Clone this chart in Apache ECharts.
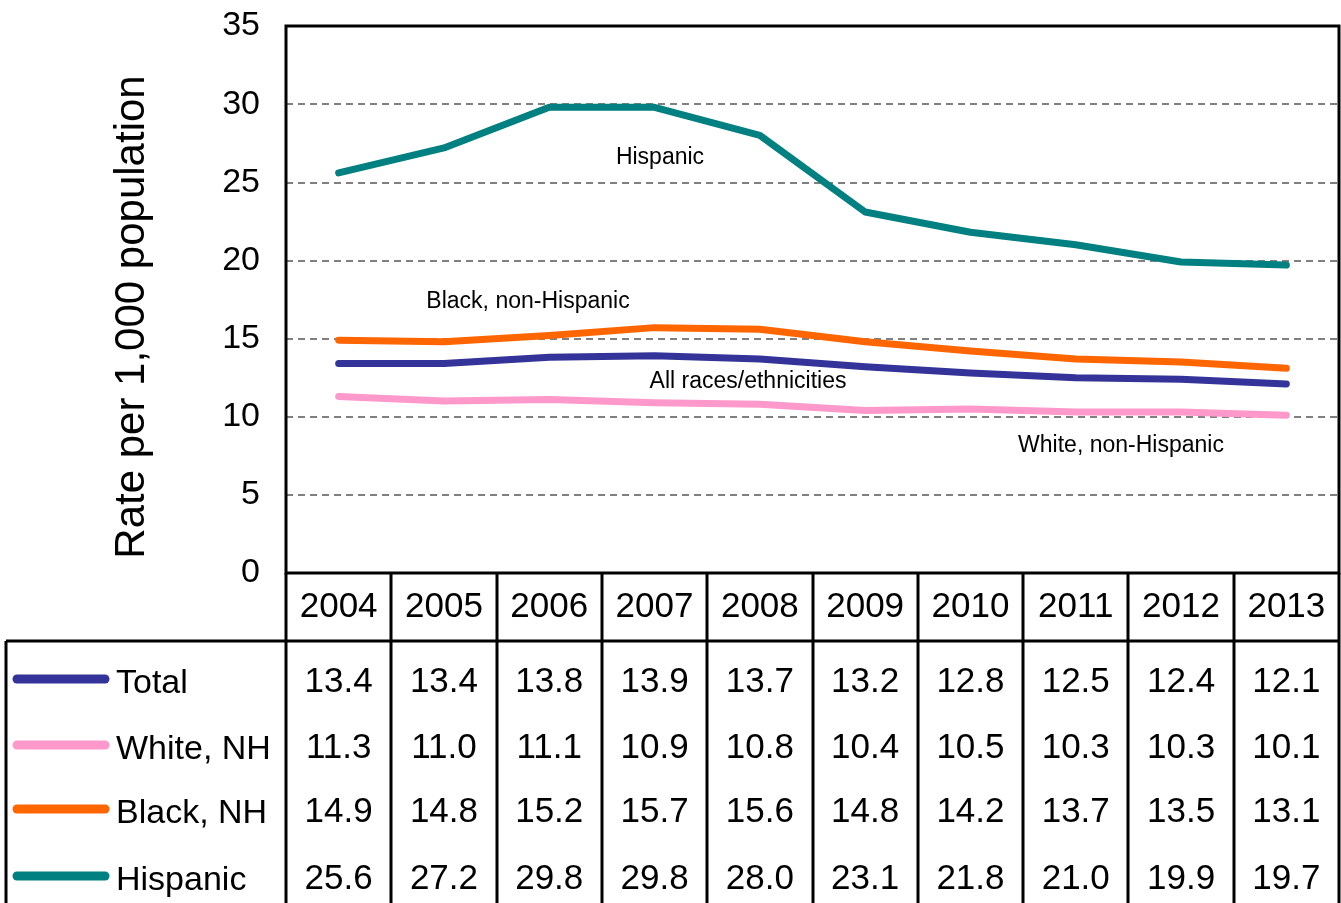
<!DOCTYPE html>
<html><head><meta charset="utf-8">
<script src="https://cdn.jsdelivr.net/npm/echarts@6/dist/echarts.min.js"></script>
<style>html,body{margin:0;padding:0;background:#fff}#c{width:1341px;height:903px}</style>
</head><body><div id="c"></div>
<script>
const years = ['2004','2005','2006','2007','2008','2009','2010','2011','2012','2013'];
const total = [13.4,13.4,13.8,13.9,13.7,13.2,12.8,12.5,12.4,12.1];
const white = [11.3,11.0,11.1,10.9,10.8,10.4,10.5,10.3,10.3,10.1];
const black = [14.9,14.8,15.2,15.7,15.6,14.8,14.2,13.7,13.5,13.1];
const hispanic = [25.6,27.2,29.8,29.8,28.0,23.1,21.8,21.0,19.9,19.7];
const rowNames = ['Total','White, NH','Black, NH','Hispanic'];
const rowColors = ['#333399','#FF99CC','#FF6600','#008080'];
const yTicks = {min:0, max:35, interval:5};

const FONT = "'Liberation Sans', Arial, sans-serif";
const gridL = 286, gridT = 26, gridR = 1339, gridB = 573;
const tableB = 903, headB = 641;
const rowCenters = [680, 746, 810, 877];
const rows = [total, white, black, hispanic];
const TFS = 35;

const chart = echarts.init(document.getElementById('c'), null, {renderer:'canvas'});

const xAxes = [{
  type:'category', data: years, gridIndex:0, position:'bottom', boundaryGap:true,
  axisLine:{show:false}, axisTick:{show:false}, splitLine:{show:false},
  axisLabel:{interval:0, fontSize:TFS, fontFamily:FONT, color:'#000', margin:605-gridB-15}
}];
rows.forEach((arr, i) => {
  xAxes.push({
    type:'category', data: years, gridIndex:0, position:'bottom', offset:0, boundaryGap:true,
    axisLine:{show:false}, axisTick:{show:false}, splitLine:{show:false},
    axisLabel:{interval:0, fontSize:TFS, fontFamily:FONT, color:'#000', margin: rowCenters[i]-gridB-15,
      formatter:(v, idx) => arr[idx].toFixed(1)}
  });
});

const series = [];
const order = [1,0,2,3];
order.forEach(i => {
  series.push({
    name: rowNames[i], type:'line', data: rows[i], xAxisIndex:0, yAxisIndex:0,
    symbol:'none', lineStyle:{color:rowColors[i], width:7, cap:'round', join:'round'},
    itemStyle:{color:rowColors[i]}, z: 3, silent:true, animation:false
  });
});

const graphics = [];
graphics.push({type:'text', x:132, y:317, rotation:Math.PI/2,
  style:{text:'Rate per 1,000 population', font:'42px '+FONT, fill:'#000', textAlign:'center', textVerticalAlign:'middle'}});
const ann = [['Hispanic',660,158],['Black, non-Hispanic',528,302],['All races/ethnicities',748,382],['White, non-Hispanic',1121,446]];
ann.forEach(a => graphics.push({type:'text', x:a[1], y:a[2], z:10,
  style:{text:a[0], font:'23px '+FONT, fill:'#000', textAlign:'center', textVerticalAlign:'middle'}}));
const lw = 3;
const colW = (gridR - gridL) / years.length;
for (let k = 0; k <= years.length; k++) {
  const x = Math.round(gridL + k*colW);
  graphics.push({type:'line', shape:{x1:x, y1:gridB, x2:x, y2:tableB+5}, style:{stroke:'#000', lineWidth:lw}, z:5});
}
graphics.push({type:'line', shape:{x1:6, y1:headB, x2:gridR, y2:headB}, style:{stroke:'#000', lineWidth:lw}, z:5});
graphics.push({type:'line', shape:{x1:6, y1:headB, x2:6, y2:tableB+5}, style:{stroke:'#000', lineWidth:lw}, z:5});
rowNames.forEach((n, i) => {
  const cy = rowCenters[i];
  graphics.push({type:'line', shape:{x1:17, y1:cy-1, x2:105, y2:cy-1}, style:{stroke:rowColors[i], lineWidth:9, lineCap:'round'}, z:5});
  graphics.push({type:'text', x:116, y:cy+4, style:{text:n, font:'34px '+FONT, fill:'#000', textAlign:'left', textVerticalAlign:'middle'}, z:5});
});

chart.setOption({
  animation:false,
  backgroundColor:'#fff',
  grid:{left:gridL, top:gridT, width:gridR-gridL, height:gridB-gridT, show:true, borderColor:'#000', borderWidth:3, backgroundColor:'transparent', z:4},
  xAxis: xAxes,
  yAxis:{type:'value', min:yTicks.min, max:yTicks.max, interval:yTicks.interval,
    axisLine:{show:false}, axisTick:{show:false},
    axisLabel:{fontSize:34, fontFamily:FONT, color:'#000', margin:26, showMaxLabel:true},
    splitLine:{show:true, lineStyle:{color:'#808080', width:2, type:[7,5]}}},
  series: series,
  graphic: graphics
});
</script></body></html>
